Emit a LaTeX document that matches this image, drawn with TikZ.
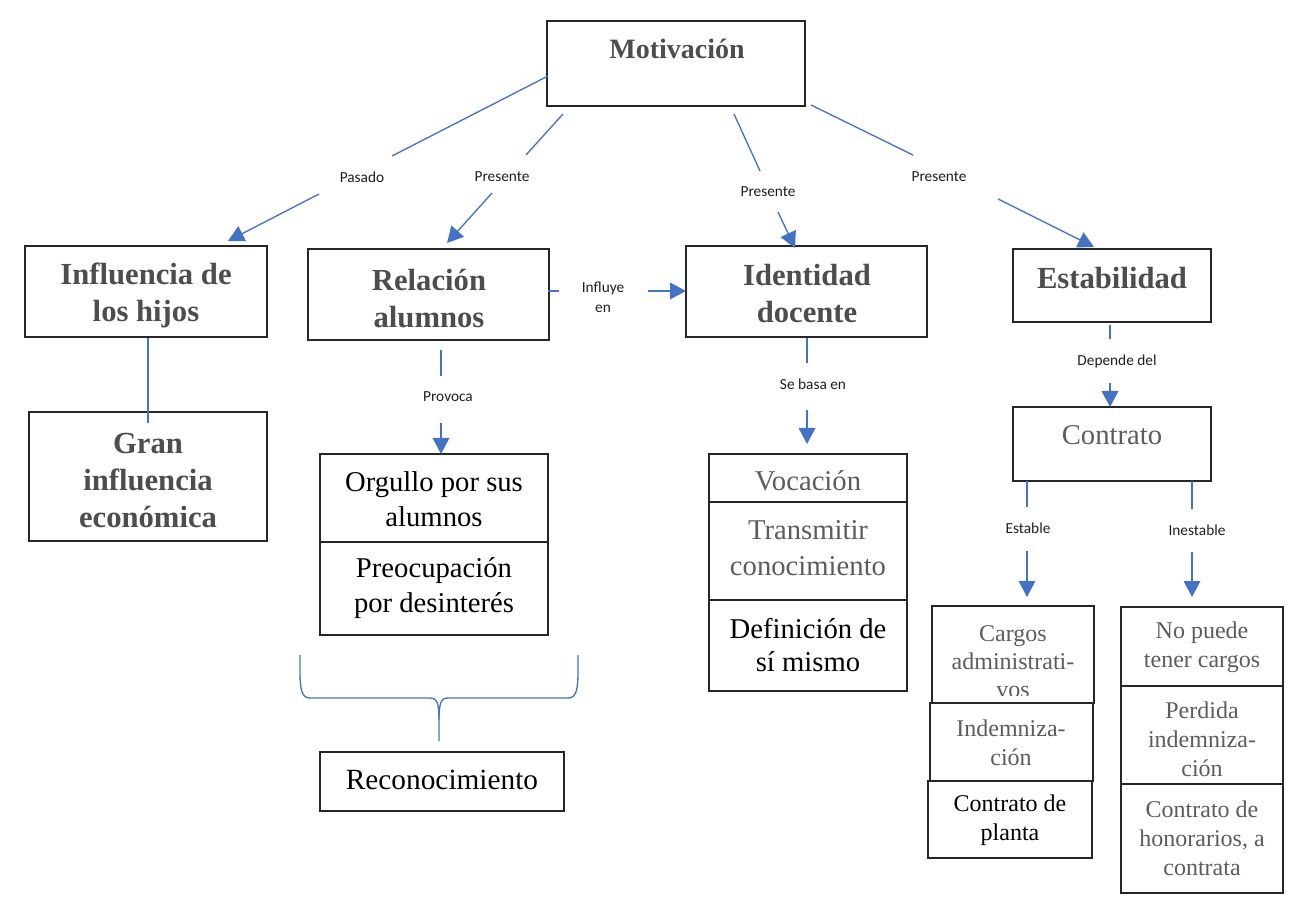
\documentclass[tikz,border=0pt]{standalone}
\usepackage{fontspec}
\setmainfont{Liberation Serif}
\newfontfamily\labfont{Carlito}
\usetikzlibrary{arrows.meta,fit}
\definecolor{connc}{HTML}{4472C4}
\definecolor{boxc}{HTML}{262626}
\definecolor{tgray}{HTML}{4D4D4D}
\definecolor{lgray}{HTML}{5C5C5C}
\begin{document}
\begin{tikzpicture}[x=0.75pt,y=-0.75pt,
  box/.style={draw=boxc,line width=1.1pt,fill=white,inner sep=0pt},
  ttl/.style={font=\fontsize{23pt}{27.75pt}\selectfont\bfseries,text=tgray,align=center,inner sep=0pt},
  big/.style={font=\fontsize{21.5pt}{26.5pt}\selectfont,align=center,inner sep=0pt},
  sm/.style={font=\fontsize{18pt}{21.75pt}\selectfont,align=center,inner sep=0pt},
  lbl/.style={font=\labfont\fontsize{11.5pt}{15pt}\selectfont,text=black!88,align=center,inner sep=0pt},
  cn/.style={draw=connc,line width=1pt},
  ar/.style={cn,-{Triangle[length=12pt,width=12.5pt]}},
  brace/.style={draw=connc,line width=1pt}
]
\useasboundingbox (0,0) rectangle (1306,912);
\fill[white] (0,0) rectangle (1306,912);

% ---------- boxes ----------
\node[box,fit={(547,21) (805,106)}] (mot) {};
\node[ttl,font=\fontsize{21pt}{26pt}\selectfont\bfseries] (mott) at (677,49) {Motivación};

\node[box,fit={(25,246) (267,337)}] (inf) {};
\node[ttl] (inft) at (146,295) {Influencia de\\los hijos};

\node[box,fit={(308,249) (549,340)}] (rel) {};
\node[ttl] (relt) at (429,298.5) {Relación\\alumnos};

\node[box,fit={(686,246) (927,337)}] (ide) {};
\node[ttl] (idet) at (807,294) {Identidad\\docente};

\node[box,fit={(1013,249) (1211,322)}] (est) {};
\node[ttl] (estt) at (1112,278) {Estabilidad};

\node[box,fit={(29,412) (267,541)}] (gran) {};
\node[ttl] (grant) at (148,480) {Gran\\influencia\\económica};

\node[box,fit={(320,454) (548,542)}] (org) {};
\node[big] (orgt) at (434,499.5) {Orgullo por sus\\alumnos};
\node[box,fit={(320,542) (548,635)}] (pre) {};
\node[big] (pret) at (434,588) {Preocupación\\por desinterés};

\node[box,fit={(320,752) (564,811)}] (rec) {};
\node[big,font=\fontsize{22pt}{26.5pt}\selectfont] (rect) at (442,780) {Reconocimiento};

\node[box,fit={(709,454) (907,502)}] (voc) {};
\node[big,text=lgray] (voct) at (808,481) {Vocación};
\node[box,fit={(709,502) (907,600)}] (tra) {};
\node[big,text=lgray,font=\fontsize{21.5pt}{27pt}\selectfont] (trat) at (808,548) {Transmitir\\conocimiento};
\node[box,fit={(709,600) (907,691)}] (def) {};
\node[big,font=\fontsize{21.5pt}{25pt}\selectfont] (deft) at (808,645) {Definición de\\sí mismo};

\node[box,fit={(1013,407) (1211,481)}] (con) {};
\node[big,text=lgray] (cont) at (1112,435) {Contrato};

\node[box,fit={(932,606) (1094,703)}] (car) {};
\begin{scope}
\clip (920,600) rectangle (1100,695);
\node[sm,text=lgray,font=\fontsize{18pt}{21pt}\selectfont] (cart) at (1013,662) {Cargos\\administrati-\\vos};
\end{scope}
\node[box,fit={(930,703) (1093,781)}] (ind) {};
\node[sm,text=lgray] (indt) at (1011,742.5) {Indemniza-\\ción};
\node[box,fit={(928,781) (1092,858)}] (pla) {};
\node[sm] (plat) at (1010,820.5) {Contrato de\\planta};

\node[box,fit={(1121,607) (1283,686)}] (nop) {};
\node[sm,text=lgray] (nopt) at (1202,647.5) {No puede\\tener cargos};
\node[box,fit={(1121,686) (1283,784)}] (per) {};
\node[sm,text=lgray] (pert) at (1202,739) {Perdida\\indemniza-\\ción};
\node[box,fit={(1121,784) (1283,893)}] (hon) {};
\node[sm,text=lgray] (hont) at (1202,838.5) {Contrato de\\honorarios, a\\contrata};

% ---------- labels ----------
\node[lbl] (lpas) at (362,177) {Pasado};
\node[lbl] (lpr1) at (502,177) {Presente};
\node[lbl] (lpr2) at (768,192) {Presente};
\node[lbl] (lpr3) at (939,177) {Presente};
\node[lbl] (linf) at (603,297) {Influye\\en};
\node[lbl] (lpro) at (448,397) {Provoca};
\node[lbl] (lbas) at (813,384) {Se basa en};
\node[lbl] (ldep) at (1117,361) {Depende del};
\node[lbl] (lesta) at (1028,528) {Estable};
\node[lbl] (lines) at (1197,530) {Inestable};

% ---------- connector coordinates ----------
\coordinate (pa1) at (548,76);  \coordinate (pa2) at (392,156);
\coordinate (pa3) at (319,194); \coordinate (pa4) at (228,241);
\coordinate (pb1) at (563,114); \coordinate (pb2) at (526,155);
\coordinate (pb3) at (492,193); \coordinate (pb4) at (447,243);
\coordinate (pc1) at (734,114); \coordinate (pc2) at (760,171);
\coordinate (pc3) at (778,212); \coordinate (pc4) at (795,248);
\coordinate (pd1) at (811,105); \coordinate (pd2) at (913,155);
\coordinate (pd3) at (998,199); \coordinate (pd4) at (1094,247);
\coordinate (ie1) at (548,291); \coordinate (ie2) at (559,291);
\coordinate (ie3) at (648,291); \coordinate (ie4) at (686,291);
\coordinate (pv1) at (441,350); \coordinate (pv2) at (441,376);
\coordinate (pv3) at (441,423); \coordinate (pv4) at (441,454);
\coordinate (sb1) at (807,338); \coordinate (sb2) at (807,363);
\coordinate (sb3) at (807,410); \coordinate (sb4) at (807,444);
\coordinate (dd1) at (1110,325); \coordinate (dd2) at (1110,339);
\coordinate (dd3) at (1110,383); \coordinate (dd4) at (1110,407);
\coordinate (es1) at (1027,481); \coordinate (es2) at (1027,507);
\coordinate (es3) at (1027,551); \coordinate (es4) at (1027,597);
\coordinate (in1) at (1192,481); \coordinate (in2) at (1192,509);
\coordinate (in3) at (1192,552); \coordinate (in4) at (1192,597);
\coordinate (hg1) at (148,338); \coordinate (hg2) at (148,423);

\draw[cn] (pa1) -- (pa2); \draw[ar] (pa3) -- (pa4);
\draw[cn] (pb1) -- (pb2); \draw[ar] (pb3) -- (pb4);
\draw[cn] (pc1) -- (pc2); \draw[ar] (pc3) -- (pc4);
\draw[cn] (pd1) -- (pd2); \draw[ar] (pd3) -- (pd4);
\draw[cn] (ie1) -- (ie2); \draw[ar] (ie3) -- (ie4);
\draw[cn] (pv1) -- (pv2); \draw[ar] (pv3) -- (pv4);
\draw[cn] (sb1) -- (sb2); \draw[ar] (sb3) -- (sb4);
\draw[cn] (dd1) -- (dd2); \draw[ar] (dd3) -- (dd4);
\draw[cn] (es1) -- (es2); \draw[ar] (es3) -- (es4);
\draw[cn] (in1) -- (in2); \draw[ar] (in3) -- (in4);
\draw[cn] (hg1) -- (hg2);

% ---------- brace ----------
\draw[brace] (300,655) -- (300,672) .. controls (300,690) and (302,698) .. (310,698)
  -- (430,698) .. controls (437,698) and (439,703) .. (439,720) -- (439,741);
\draw[brace] (578,655) -- (578,672) .. controls (578,690) and (576,698) .. (568,698)
  -- (448,698) .. controls (441,698) and (439,703) .. (439,720);
\end{tikzpicture}
\end{document}
